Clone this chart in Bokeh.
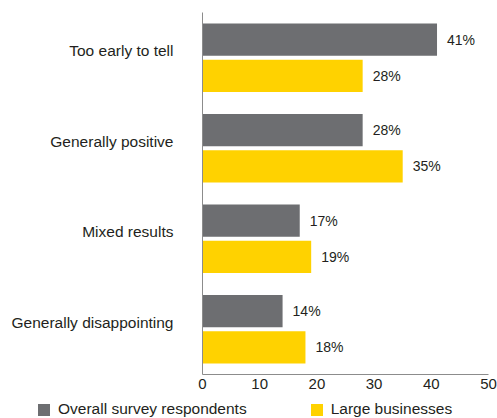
from bokeh.plotting import figure
from bokeh.models import (Range1d, FixedTicker, Legend, LegendItem, ColumnDataSource)
from bokeh.transform import dodge
from bokeh.core.properties import value
from bokeh.layouts import column
from bokeh.embed import file_html
from bokeh.resources import INLINE

categories = ["Too early to tell", "Generally positive", "Mixed results", "Generally disappointing"]
overall = [41, 28, 17, 14]
large = [28, 35, 19, 18]
series_names = ["Overall survey respondents", "Large businesses"]
x_ticks = [0, 10, 20, 30, 40, 50]

GRAY = "#6d6e71"
YELLOW = "#ffd200"
TEXT = "#231f20"
AXIS = "#8c8c8c"
FONT = "Liberation Sans"

n = len(categories)
ypos = [n - i - 0.5 for i in range(n)]  # first category at the top

src = ColumnDataSource(dict(
    cat=categories,
    ypos=ypos,
    overall=overall,
    large=large,
    overall_lbl=[f"{v}%" for v in overall],
    large_lbl=[f"{v}%" for v in large],
))

p = figure(width=497, height=396, output_backend="svg", toolbar_location=None,
           y_range=Range1d(0, n), x_range=Range1d(0, 50),
           min_border_left=202, min_border_right=9, min_border_top=12, min_border_bottom=22)
p.outline_line_color = None
p.xgrid.visible = False
p.ygrid.visible = False

r1 = p.hbar(y=dodge("ypos", 0.2), right="overall", left=0, height=0.355,
            color=GRAY, line_color=None, source=src)
r2 = p.hbar(y=dodge("ypos", -0.2), right="large", left=0, height=0.355,
            color=YELLOW, line_color=None, source=src)

p.text(x="overall", y=dodge("ypos", 0.2), text="overall_lbl", source=src,
       x_offset=10, text_baseline="middle", text_font_size="14px", text_color=TEXT,
       text_font=value(FONT))
p.text(x="large", y=dodge("ypos", -0.2), text="large_lbl", source=src,
       x_offset=10, text_baseline="middle", text_font_size="14px", text_color=TEXT,
       text_font=value(FONT))

ax = p.xaxis[0]
ax.ticker = FixedTicker(ticks=x_ticks)
ax.axis_line_color = AXIS
ax.major_tick_line_color = None
ax.minor_tick_line_color = None
ax.major_tick_out = 0
ax.minor_tick_out = 0
ax.major_label_text_font_size = "15px"
ax.major_label_text_font = FONT
ax.major_label_text_color = TEXT
ax.major_label_standoff = 4

# category labels sit slightly above each group's centre, as in the original
label_shift = 0.077
tick_pos = [y + label_shift for y in ypos]
ay = p.yaxis[0]
ay.ticker = FixedTicker(ticks=tick_pos)
ay.major_label_overrides = {t: c for t, c in zip(tick_pos, categories)}
ay.axis_line_color = AXIS
ay.major_tick_line_color = None
ay.minor_tick_line_color = None
ay.major_tick_out = 0
ay.minor_tick_out = 0
ay.major_label_text_font_size = "15.5px"
ay.major_label_text_font = FONT
ay.major_label_text_color = TEXT
ay.major_label_standoff = 29

# legend row (a separate strip so the legend can start left of the plot frame)
lg = figure(width=497, height=22, output_backend="svg", toolbar_location=None,
            x_range=Range1d(0, 1), y_range=Range1d(0, 1),
            min_border_left=0, min_border_right=0, min_border_top=0, min_border_bottom=0)
lg.axis.visible = False
lg.grid.visible = False
lg.outline_line_color = None
for fig in (p, lg):
    try:
        fig.frame_align = False
    except Exception:
        pass

leg_src = ColumnDataSource(dict(series=series_names, color=[GRAY, YELLOW], zero=[0, 0]))
dr = lg.hbar(y="zero", left="zero", right="zero", height=0, fill_color="color",
             line_color=None, source=leg_src)
legend = Legend(items=[LegendItem(label=series_names[0], renderers=[dr], index=0),
                       LegendItem(label=series_names[1], renderers=[dr], index=1)],
                orientation="horizontal", location=(36, 0),
                glyph_width=15, glyph_height=15, label_standoff=7, spacing=62,
                label_text_font_size="15.5px", label_text_font=FONT, label_text_color=TEXT,
                label_height=15, padding=0, margin=0, border_line_color=None,
                background_fill_alpha=0)
lg.add_layout(legend, "center")

layout = column(p, lg, spacing=0)
open("out.html", "w").write(file_html(layout, INLINE))
